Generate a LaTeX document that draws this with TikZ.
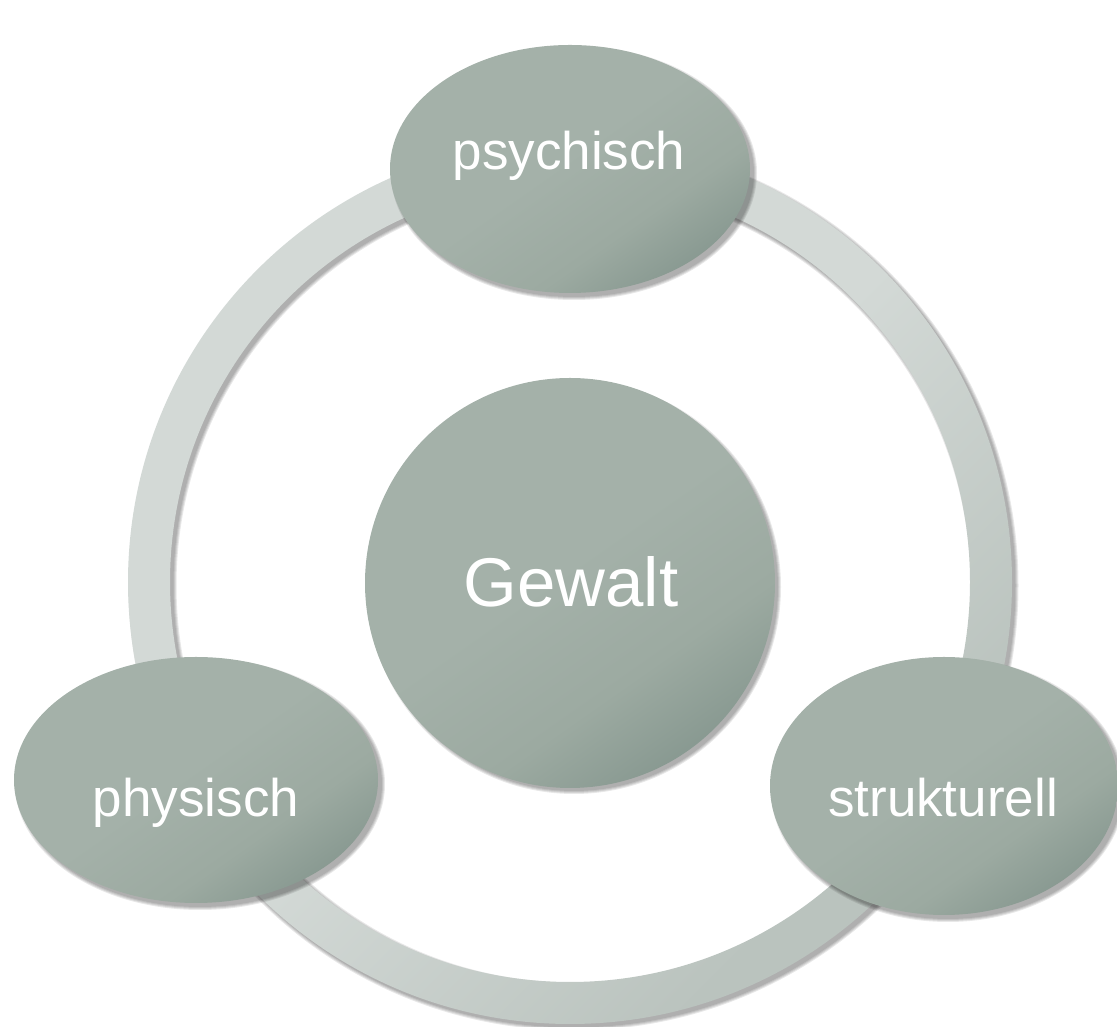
\documentclass[tikz,border=0pt]{standalone}
\usepackage{fontspec}
\setmainfont{Liberation Sans}
\usetikzlibrary{shapes.geometric}

\definecolor{ringlight}{HTML}{D3D9D6}
\definecolor{ringdark}{HTML}{BAC3BE}
\definecolor{bubtop}{HTML}{A4B1A9}
\definecolor{bubmid}{HTML}{9CAAA1}
\definecolor{bubbot}{HTML}{879890}

% flat fill that darkens gently towards one corner
\pgfdeclareverticalshading{bubshade}{100bp}{%
  color(0bp)=(bubbot); color(24bp)=(bubbot); color(36bp)=(bubmid);
  color(52bp)=(bubtop); color(100bp)=(bubtop)}
\pgfdeclareverticalshading{ringshade}{100bp}{%
  color(0bp)=(ringdark); color(28bp)=(ringdark); color(50bp)=(ringlight);
  color(100bp)=(ringlight)}

\tikzset{
  bubble/.style={ellipse, inner sep=0pt, draw=none,
    shade, shading=bubshade, shading angle=35},
  bubbletext/.style={text=white, anchor=base, inner sep=0pt,
    font=\fontsize{53}{60}\selectfont},
  softshadow/.style={black, opacity=0.09},
}

\begin{document}
\begin{tikzpicture}[x=1pt,y=1pt]
\useasboundingbox (0,0) rectangle (1117,1027);
\clip (0,0) rectangle (1117,1027);

\coordinate (ctr) at (570,445);

% ring with its soft shadow
\foreach \d in {0,1,...,3}
  \fill[softshadow, even odd rule] ([shift={(3.5,-3.5)}]ctr)
    circle[radius=442+\d] circle[radius=400-\d];
\shade[even odd rule, shading=ringshade, shading angle=45]
  (ctr) circle[radius=442] circle[radius=400];

% central circle
\foreach \d in {0,1,...,3}
  \fill[softshadow] (574,440) circle[radius=204+\d];
\node[bubble, minimum width=410pt, minimum height=410pt] (gewalt) at (570,444) {};
\node[bubbletext, font=\fontsize{69}{76}\selectfont] (tgewalt) at (571,420) {Gewalt};

% outer ellipses
\foreach \d in {0,1,...,3}
  \fill[softshadow] (574,854) ellipse[x radius=180+\d, y radius=124+\d];
\node[bubble, minimum width=360pt, minimum height=248pt] (psych) at (570,858) {};
\node[bubbletext] (tpsych) at (569,857) {psychisch};

\foreach \d in {0,1,...,3}
  \fill[softshadow] (200,243) ellipse[x radius=182+\d, y radius=123+\d];
\node[bubble, minimum width=364pt, minimum height=246pt] (phys) at (196,247) {};
\node[bubbletext] (tphys) at (196,210) {physisch};

\foreach \d in {0,1,...,3}
  \fill[softshadow] (948,237) ellipse[x radius=174+\d, y radius=129+\d];
\node[bubble, minimum width=348pt, minimum height=258pt] (strukt) at (944,241) {};
\node[bubbletext] (tstrukt) at (943,210) {strukturell};
\end{tikzpicture}
\end{document}
